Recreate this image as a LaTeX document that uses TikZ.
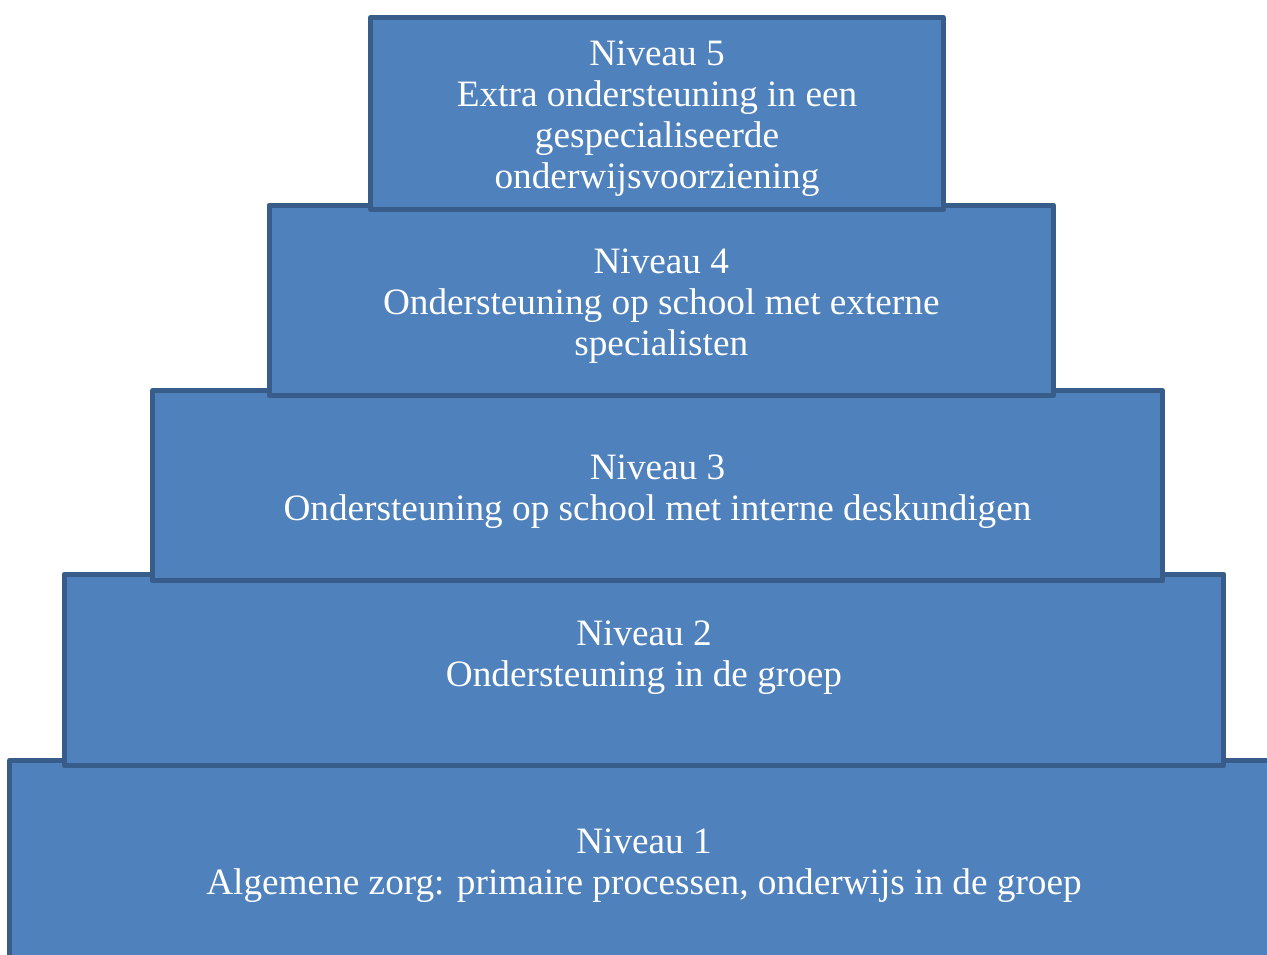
\documentclass[tikz,border=0pt]{standalone}
\usepackage{fontspec}
\setmainfont{Liberation Serif}
\usetikzlibrary{positioning}
\definecolor{levelfill}{HTML}{4F81BD}
\definecolor{levelline}{HTML}{385D8A}
\tikzset{
  levelbox/.style={draw=levelline, fill=levelfill, line width=2.85pt, inner sep=0pt,
    line join=round, rectangle},
  leveltext/.style={text=white, align=center, inner sep=0pt,
    font=\fontsize{21.2}{23.4}\selectfont}
}
\begin{document}
\begin{tikzpicture}[x=0.02cm, y=-0.02cm]
\useasboundingbox (0,0) rectangle (1267,954);
\clip (0,0) rectangle (1267,954);
% trappen van onder naar boven
\node[levelbox, minimum width=25.38cm, minimum height=3.99cm] (lvlone) at (644,860) {};
\node[levelbox, minimum width=23.2cm, minimum height=3.83cm] (lvltwo) at (644,669.75) {};
\node[levelbox, minimum width=20.2cm, minimum height=3.81cm] (lvlthree) at (657.5,485.75) {};
\node[levelbox, minimum width=15.69cm, minimum height=3.81cm] (lvlfour) at (661.25,300.25) {};
\node[levelbox, minimum width=11.46cm, minimum height=3.84cm] (lvlfive) at (657,113.5) {};
% teksten
\node[leveltext, yshift=-0.11cm] (txtone) at (lvlone.center) {Niveau 1\\Algemene zorg: primaire processen, onderwijs in de groep};
\node[leveltext, yshift=0.235cm] (txttwo) at (lvltwo.center) {Niveau 2\\Ondersteuning in de groep};
\node[leveltext, yshift=-0.115cm] (txtthree) at (lvlthree.center) {Niveau 3\\Ondersteuning op school met interne deskundigen};
\node[leveltext, yshift=-0.115cm] (txtfour) at (lvlfour.center) {Niveau 4\\Ondersteuning op school met externe\\specialisten};
\node[leveltext, yshift=-0.1cm] (txtfive) at (lvlfive.center) {Niveau 5\\Extra ondersteuning in een\\gespecialiseerde\\onderwijsvoorziening};
\end{tikzpicture}
\end{document}
